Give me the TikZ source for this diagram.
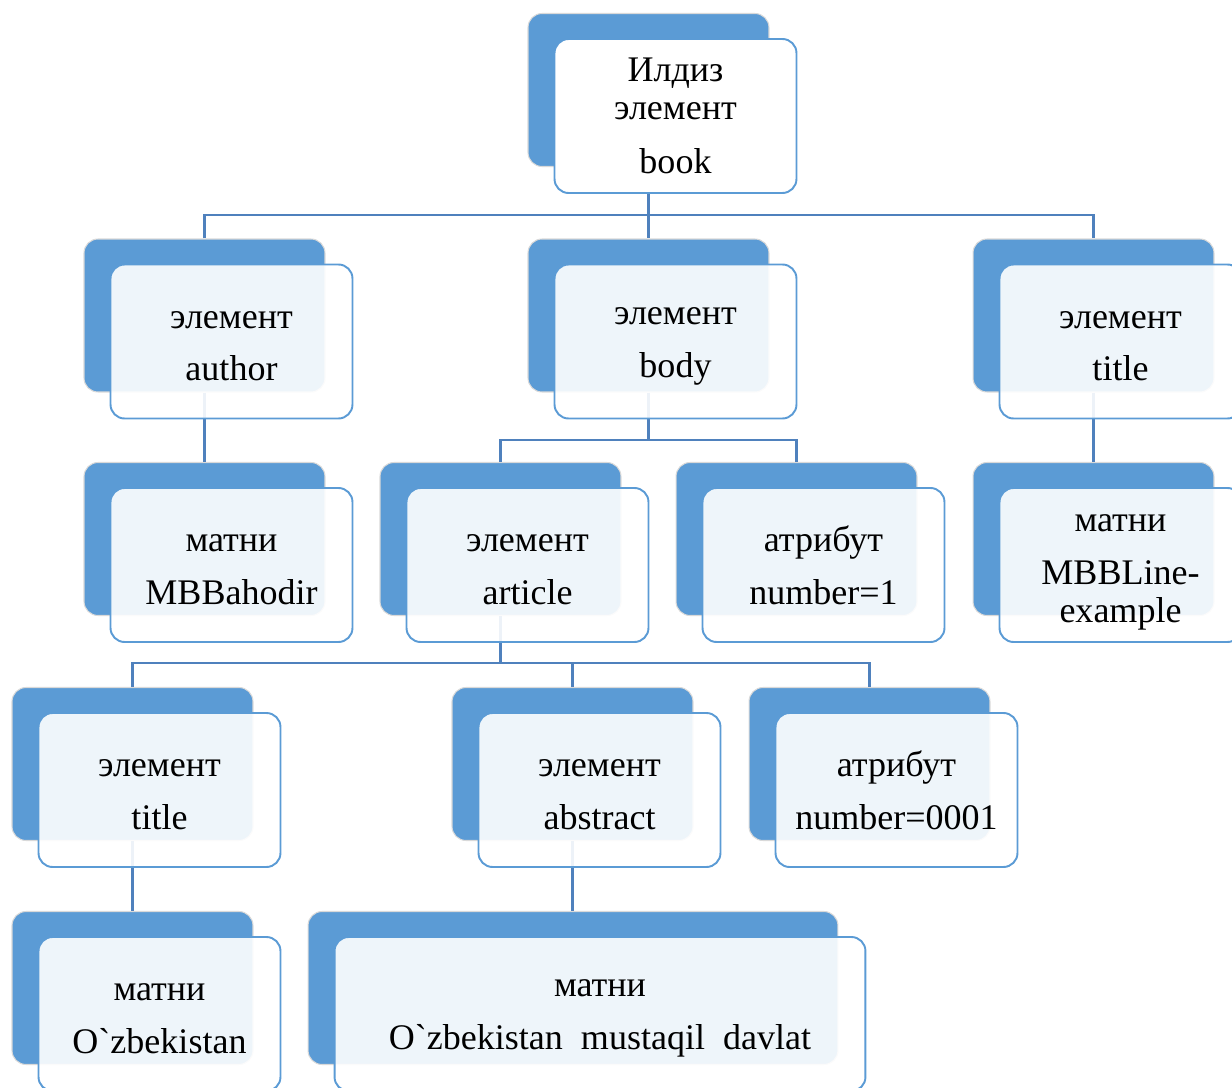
\documentclass[tikz,border=0pt]{standalone}
\usepackage{fontspec}
\setmainfont{Liberation Serif}[Ligatures=TeXOff]
\definecolor{boxblue}{HTML}{5B9BD5}
\definecolor{linkblue}{HTML}{4F81BD}
\newcommand{\padtop}{\rule{0pt}{15pt}}
\begin{document}
\begin{tikzpicture}[
    x=0.02cm, y=-0.02cm,
    every node/.style={font=\fontsize{20.5}{30}\selectfont},
    back/.style={draw=black!15, line width=0.6pt, fill=boxblue, rounded corners=0.28cm,
        minimum width=4.82cm, minimum height=3.06cm, inner sep=0pt},
    front/.style={draw=boxblue, line width=1.1pt, fill=white, fill opacity=0.9, text opacity=1,
        rounded corners=0.28cm, minimum width=4.84cm, minimum height=3.08cm, inner sep=0pt, align=center},
    link/.style={draw=linkblue, line width=1.4pt}
]
    \clip (0,0) rectangle (1232,1088);

    % back boxes
    \node[back] (rootB) at (648.5,90) {};
    \node[back] (authorB) at (204.5,315.5) {};
    \node[back] (bodyB) at (648.5,315.5) {};
    \node[back] (titleB) at (1093.5,315.5) {};
    \node[back] (bahodirB) at (204.5,539) {};
    \node[back] (articleB) at (500.5,539) {};
    \node[back] (attrAB) at (796.5,539) {};
    \node[back] (lineB) at (1093.5,539) {};
    \node[back] (ttlB) at (132.5,764) {};
    \node[back] (abstractB) at (572.5,764) {};
    \node[back] (attrBB) at (869.5,764) {};
    \node[back] (uzbB) at (132.5,988) {};
    \node[back, minimum width=10.6cm] (davlatB) at (573,988) {};

    % connectors
    \coordinate (j1) at (648.5,215);
    \coordinate (j2) at (648.5,440);
    \coordinate (j3) at (500.5,663);
    \draw[link] (rootB.south) -- (j1);
    \draw[link] (authorB.north) |- (j1) -| (titleB.north);
    \draw[link] (j1) -- (bodyB.north);
    \draw[link] (authorB.south) -- (bahodirB.north);
    \draw[link] (titleB.south) -- (lineB.north);
    \draw[link] (bodyB.south) -- (j2);
    \draw[link] (articleB.north) |- (j2) -| (attrAB.north);
    \draw[link] (articleB.south) -- (j3);
    \draw[link] (ttlB.north) |- (j3) -| (attrBB.north);
    \draw[link] (abstractB.north) -- (abstractB.north |- j3);
    \draw[link] (ttlB.south) -- (uzbB.north);
    \draw[link] (abstractB.south) -- (abstractB.south |- davlatB.north);

    % front boxes
    \node[front, fill opacity=1, font=\fontsize{20.5}{21.6}\selectfont] (root) at (675.5,116) {Илдиз\\элемент\\[9pt]book};
    \node[front] (author) at (231.5,341.5) {\padtop элемент\\author};
    \node[front] (body) at (675.5,341.5) {\padtop элемент\\body};
    \node[front] (title) at (1120.5,341.5) {\padtop элемент\\title};
    \node[front] (bahodir) at (231.5,565) {\padtop матни\\MBBahodir};
    \node[front] (article) at (527.5,565) {\padtop элемент\\article};
    \node[front] (attrA) at (823.5,565) {\padtop атрибут\\number=1};
    \node[front] (line) at (1120.5,565) {\rule{0pt}{18pt}матни\\MBBLine-\\[-8pt]example};
    \node[front] (ttl) at (159.5,790) {\padtop элемент\\title};
    \node[front] (abstract) at (599.5,790) {\padtop элемент\\abstract};
    \node[front] (attrB) at (896.5,790) {\padtop атрибут\\number=0001};
    \node[front] (uzb) at (159.5,1014) {\padtop матни\\O`zbekistan};
    \node[front, minimum width=10.62cm] (davlat) at (600,1014) {\padtop матни\\O`zbekistan\enspace mustaqil\enspace davlat};
\end{tikzpicture}
\end{document}
